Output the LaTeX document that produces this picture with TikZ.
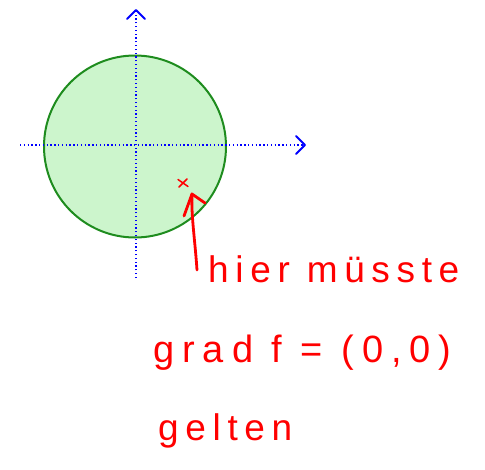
\documentclass[tikz,border=0pt]{standalone}
\usepackage{fontspec}
\usetikzlibrary{calc}
\newfontfamily\hand[LetterSpace=18]{Liberation Sans}
\newfontfamily\handwide[LetterSpace=21]{Liberation Sans}
\definecolor{circfill}{HTML}{CCF5CC}
\definecolor{circline}{HTML}{1E8C1E}
\definecolor{axisblue}{HTML}{0000FF}
\definecolor{inkred}{HTML}{FF0000}
\begin{document}
\begin{tikzpicture}[x=1pt,y=-1pt,
  axis/.style={axisblue,line width=1.8pt,dash pattern=on 1.3pt off 2.5pt},
  axistip/.style={axisblue,line width=1.9pt,line cap=round,line join=round},
  ink/.style={inkred,line width=2.8pt,line cap=round,line join=round},
  handtext/.style={inkred,anchor=base west,inner sep=0pt,font=\hand\fontsize{37}{40}\selectfont}]
\useasboundingbox (0,0) rectangle (485,469);
% circle
\node[circle,draw=circline,fill=circfill,line width=2pt,minimum size=182pt,inner sep=0pt] (disc) at (135,146.5) {};
% axes
\coordinate (xs) at (20,145);
\coordinate (xe) at (305,145);
\coordinate (ys) at (136,278);
\coordinate (ye) at (136,10);
\draw[axis] (xs) -- (xe);
\draw[axis] (ys) -- (ye);
\draw[axistip] ($(xe)+(-9,-9)$) -- (xe) -- ($(xe)+(-9,9)$);
\draw[axistip] ($(ye)+(-9,9)$) -- (ye) -- ($(ye)+(9,9)$);
% red cross
\coordinate (pt) at (183,183);
\draw[inkred,line width=1.5pt,line cap=round] ($(pt)+(-5,-3.5)$) -- ($(pt)+(5,3.5)$) ($(pt)+(-4,4)$) -- ($(pt)+(4,-4)$);
% arrow
\coordinate (as) at (197,270);
\coordinate (ae) at (192,194);
\draw[ink] (as) .. controls (195,240) and (191,215) .. (ae);
\draw[ink] (184,216) -- (ae) -- (205,203);
% text
\node[handtext] (t1) at (208,282) {hier müsste};
\node[handtext,font=\handwide\fontsize{38}{42}\selectfont] (t2) at (153,362) {grad f = (0,0)};
\node[handtext] (t3) at (158,440) {gelten};
\end{tikzpicture}
\end{document}
